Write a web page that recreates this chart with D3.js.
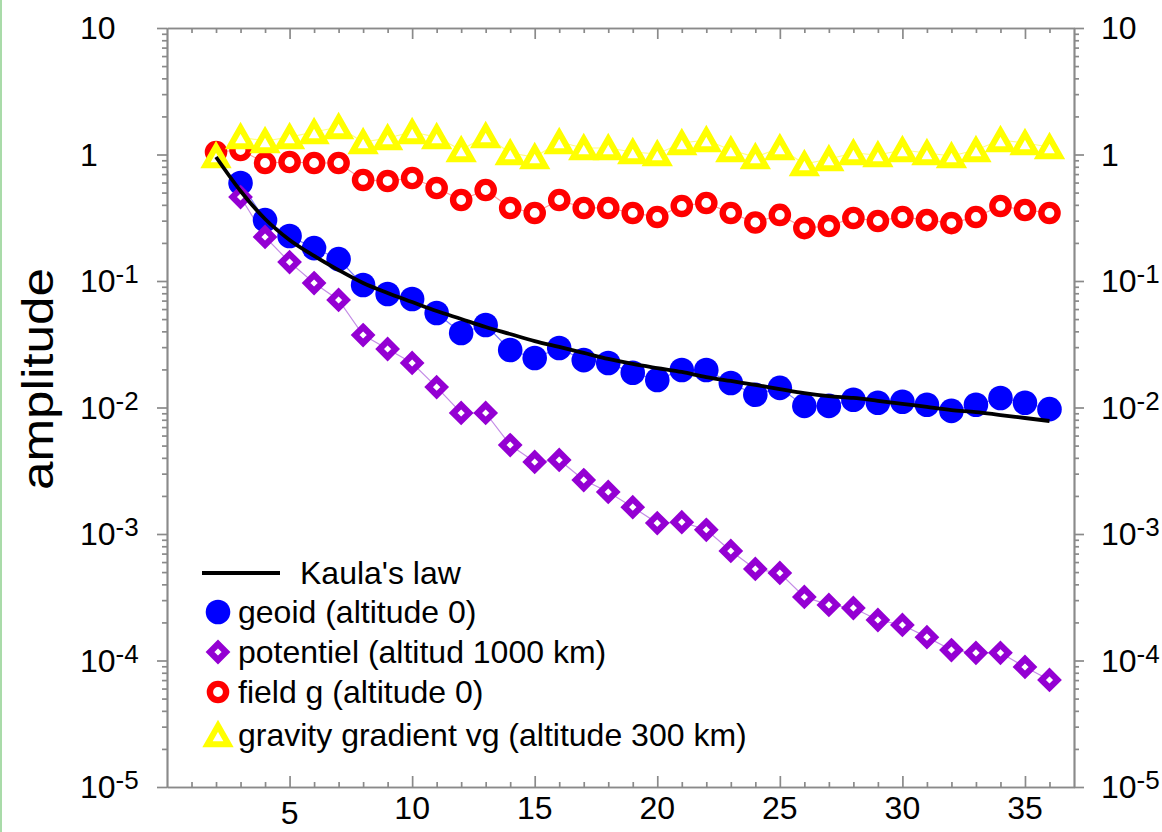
<!DOCTYPE html>
<html><head><meta charset="utf-8">
<script src="https://cdn.jsdelivr.net/npm/d3@7"></script>
<style>
html,body{margin:0;padding:0;background:#fff;overflow:hidden}
svg{display:block}
text{font-family:"Liberation Sans",Arial,Helvetica,sans-serif;fill:#000}
</style></head><body>
<svg id="chart" width="1162" height="832"></svg>
<script>
// ---------- data ----------
const degrees = [2,3,4,5,6,7,8,9,10,11,12,13,14,15,16,17,18,19,20,21,22,23,24,25,26,27,28,29,30,31,32,33,34,35,36];
const kaula = [0.956,0.515,0.309,0.211,0.158,0.122,0.0964,0.0804,0.0682,0.0579,0.0501,0.0433,0.0381,0.0335,0.0301,0.0270,0.0242,0.0221,0.0205,0.0191,0.0174,0.0162,0.0151,0.0140,0.0130,0.0123,0.0119,0.0113,0.0107,0.0101,0.00955,0.00921,0.00872,0.00826,0.00782];
const geoid = [null,0.595,0.303,0.227,0.182,0.149,0.0930,0.0789,0.0721,0.0559,0.0388,0.0449,0.0285,0.0246,0.0295,0.0237,0.0225,0.0188,0.0165,0.0198,0.0198,0.0156,0.0126,0.0143,0.0103,0.0103,0.0115,0.0109,0.0111,0.0105,0.0094,0.0105,0.0119,0.0109,0.0097];
const potentiel = [null,0.461,0.223,0.141,0.0964,0.0708,0.0374,0.0290,0.0225,0.0145,0.00905,0.00905,0.00505,0.00371,0.00385,0.00267,0.00215,0.00163,0.00122,0.00124,0.00108,0.000734,0.000529,0.000492,0.000318,0.000275,0.000260,0.000209,0.000191,0.000153,0.000121,0.000115,0.000115,0.0000889,0.0000702];
const fieldG = [1.047,1.085,0.857,0.872,0.857,0.857,0.629,0.617,0.652,0.543,0.437,0.524,0.378,0.345,0.437,0.378,0.378,0.345,0.321,0.392,0.414,0.345,0.290,0.333,0.262,0.272,0.315,0.298,0.321,0.303,0.287,0.321,0.392,0.364,0.345];
const gradient = [0.973,1.374,1.279,1.374,1.506,1.649,1.255,1.350,1.506,1.374,1.085,1.400,1.028,0.955,1.255,1.126,1.126,1.047,1.009,1.233,1.302,1.085,0.955,1.126,0.841,0.921,1.028,0.991,1.085,1.028,0.973,1.085,1.302,1.233,1.146];

const xTickValues = [5,10,15,20,25,30,35];
const xTickLabels = ["5","10","15","20","25","30","35"];
const yTickValues = [10,1,0.1,0.01,0.001,0.0001,0.00001];
const yTickBase = ["10","1","10","10","10","10","10"];
const yTickSup = ["","","-1","-2","-3","-4","-5"];
const yLabel = "amplitude";
const legendLabels = ["Kaula's law","geoid (altitude 0)","potentiel (altitud 1000 km)","field g (altitude 0)","gravity gradient vg (altitude 300 km)"];

// ---------- layout ----------
const svg = d3.select("#chart");
const X0 = 167, X1 = 1074, Y0 = 28, Y1 = 787;
const x = d3.scaleLinear().domain([0,37]).range([X0,X1]);
const y = d3.scaleLog().domain([1e-5,10]).range([Y1,Y0]);
const axisColor = "#8a8a8a";

svg.append("rect").attr("x",0).attr("y",0).attr("width",2).attr("height",832).attr("fill","#a9dba9");

function styleAxis(g){
  g.selectAll("path,line").attr("stroke",axisColor).attr("stroke-width",1.7);
  g.selectAll("text").remove();
}
const yMinor = y.ticks().filter(v => !yTickValues.some(m => Math.abs(m - v)/m < 1e-6));
const xMinor = x.ticks(37).filter(v => v > 0 && v < 37 && v % 5 !== 0);

// left
svg.append("g").attr("transform",`translate(${X0},0)`)
  .call(d3.axisLeft(y).tickValues(yTickValues).tickSize(10).tickSizeOuter(0).tickFormat("")).call(styleAxis);
svg.append("g").attr("transform",`translate(${X0},0)`)
  .call(d3.axisLeft(y).tickValues(yMinor).tickSize(5).tickSizeOuter(0).tickFormat("")).call(styleAxis);
// right
svg.append("g").attr("transform",`translate(${X1},0)`)
  .call(d3.axisRight(y).tickValues(yTickValues).tickSize(10).tickSizeOuter(0).tickFormat("")).call(styleAxis);
svg.append("g").attr("transform",`translate(${X1},0)`)
  .call(d3.axisRight(y).tickValues(yMinor).tickSize(5).tickSizeOuter(0).tickFormat("")).call(styleAxis);
// top (ticks inward)
svg.append("g").attr("transform",`translate(0,${Y0})`)
  .call(d3.axisTop(x).tickValues(xTickValues).tickSize(-11).tickSizeOuter(0).tickFormat("")).call(styleAxis);
svg.append("g").attr("transform",`translate(0,${Y0})`)
  .call(d3.axisTop(x).tickValues(xMinor).tickSize(-5).tickSizeOuter(0).tickFormat("")).call(styleAxis);
// bottom (ticks inward)
svg.append("g").attr("transform",`translate(0,${Y1})`)
  .call(d3.axisBottom(x).tickValues(xTickValues).tickSize(-11).tickSizeOuter(0).tickFormat("")).call(styleAxis);
svg.append("g").attr("transform",`translate(0,${Y1})`)
  .call(d3.axisBottom(x).tickValues(xMinor).tickSize(-5).tickSizeOuter(0).tickFormat("")).call(styleAxis);

// y tick labels (left and right)
[80, 1101].forEach(lx => {
  yTickValues.forEach((v,i) => {
    const t = svg.append("text").attr("x",lx).attr("y",y(v)+11).attr("font-size",32);
    t.append("tspan").text(yTickBase[i]);
    if (yTickSup[i]) t.append("tspan").attr("font-size",26).attr("dy",-9).text(yTickSup[i]);
  });
});
// x tick labels
svg.selectAll(".xl").data(xTickValues).enter().append("text")
  .attr("x",d=>x(d)).attr("y",d=> d===5 ? 824 : 819)
  .attr("text-anchor","middle").attr("font-size",32)
  .text((d,i)=>xTickLabels[i]);

// y axis title
svg.append("text").attr("transform","translate(53,379) rotate(-90)")
  .attr("text-anchor","middle").attr("font-size",44)
  .attr("textLength",222).attr("lengthAdjust","spacingAndGlyphs").text(yLabel);

// ---------- series ----------
const rows = (arr) => degrees.map((l,i)=>({l, v: arr[i]})).filter(d => d.v != null);
const lineGen = d3.line().x(d=>x(d.l)).y(d=>y(d.v));
const diamond = r => `M0,${-r}L${r},0L0,${r}L${-r},0Z`;
const triangle = (a,h) => `M0,${-h}L${a},${h}L${-a},${h}Z`;

const thin = [
  [geoid,"#7a7aff"],[potentiel,"#c48de6"],[fieldG,"#ff9a9a"],[gradient,"#ffff80"]
];
thin.forEach(([arr,c]) => svg.append("path").datum(rows(arr)).attr("d",lineGen)
  .attr("fill","none").attr("stroke",c).attr("stroke-width",1.2));

function drawGeoid(sel){ sel.append("circle").attr("r",12.3).attr("fill","#0000ff"); }
function drawPot(sel){ sel.append("path").attr("d",diamond(8)).attr("fill","#fff").attr("stroke","#9400d3").attr("stroke-width",6.2); }
function drawField(sel){ sel.append("circle").attr("r",8.1).attr("fill","#fff").attr("stroke","#ff0000").attr("stroke-width",6.4); }
function drawGrad(sel){ sel.append("path").attr("d",triangle(10.5,9.2)).attr("fill","#fff").attr("stroke","#ffff00").attr("stroke-width",6).attr("stroke-linejoin","miter"); }

function plotMarks(arr, fn){
  svg.append("g").selectAll("g").data(rows(arr)).enter().append("g")
    .attr("transform",d=>`translate(${x(d.l)},${y(d.v)})`).call(fn);
}
plotMarks(geoid, drawGeoid);
plotMarks(potentiel, drawPot);
plotMarks(fieldG, drawField);
plotMarks(gradient, drawGrad);

svg.append("path").datum(rows(kaula)).attr("d",lineGen.curve(d3.curveMonotoneX))
  .attr("fill","none").attr("stroke","#000").attr("stroke-width",3.8);

// ---------- legend ----------
const lg = svg.append("g");
lg.append("line").attr("x1",202).attr("x2",280).attr("y1",573).attr("y2",573).attr("stroke","#000").attr("stroke-width",3.8);
lg.append("text").attr("x",300).attr("y",584).attr("font-size",32).text(legendLabels[0]);
const legRows = [[612,drawGeoid],[652,drawPot],[692,drawField],[735,drawGrad]];
legRows.forEach(([ly,fn],i) => {
  lg.append("g").attr("transform",`translate(218,${ly})`).call(fn);
  lg.append("text").attr("x",238).attr("y",ly+11).attr("font-size",32).text(legendLabels[i+1]);
});
</script>
</body></html>
